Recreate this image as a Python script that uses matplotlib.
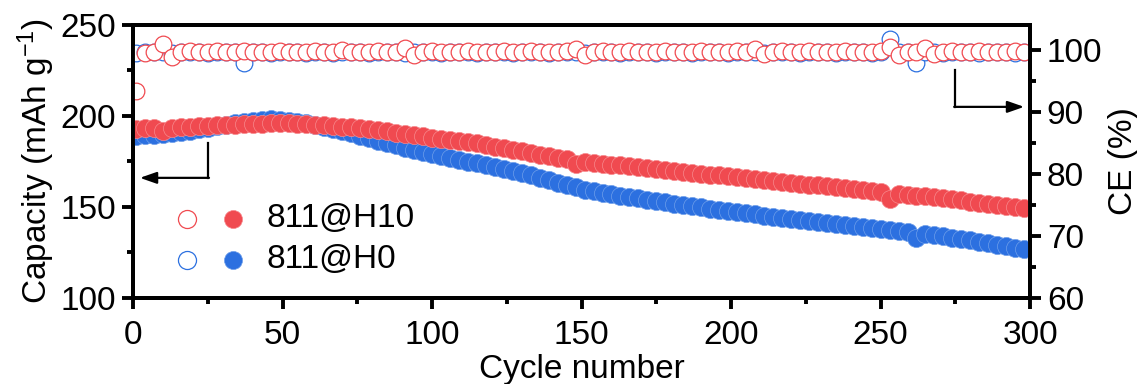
import numpy as np
import matplotlib
matplotlib.use("Agg")
import matplotlib.pyplot as plt

plt.rcParams["font.family"] = "sans-serif"
plt.rcParams["font.sans-serif"] = ["Liberation Sans", "DejaVu Sans"]
plt.rcParams["mathtext.fontset"] = "custom"
plt.rcParams["mathtext.rm"] = "Liberation Sans"
plt.rcParams["mathtext.default"] = "regular"

# Data (every 3rd cycle)
cycles = np.arange(1, 301, 3)

cap_h10 = [193.0, 193.2, 193.4, 191.5, 193.6, 194.0, 194.2, 194.5, 194.7, 194.9,
           195.1, 195.3, 195.4, 195.6, 195.8, 195.9, 196.0, 195.9, 195.8, 195.6,
           195.3, 195.0, 194.6, 194.2, 193.8, 193.2, 192.7, 192.1, 191.5, 190.9,
           190.2, 189.5, 188.8, 188.0, 187.3, 186.7, 186.1, 185.5, 184.9, 184.1,
           183.2, 182.3, 181.4, 180.5, 179.6, 178.7, 177.9, 177.0, 176.2, 173.8,
           174.8, 174.3, 173.8, 173.3, 172.8, 172.3, 171.8, 171.3, 170.8, 170.3,
           169.8, 169.3, 168.8, 168.3, 167.8, 167.3, 166.8, 166.3, 165.8, 165.3,
           164.8, 164.3, 163.8, 163.3, 162.8, 162.3, 161.8, 161.3, 160.8, 160.3,
           159.8, 159.3, 158.8, 158.3, 154.5, 157.3, 156.8, 156.3, 155.8, 155.3,
           154.8, 154.2, 153.6, 153.0, 152.4, 151.8, 151.2, 150.6, 150.0, 149.4]

cap_h0 = [189.0, 189.3, 189.6, 190.0, 190.6, 191.3, 192.0, 192.8, 193.6, 194.4,
          195.2, 196.0, 196.7, 197.3, 197.8, 198.2, 198.0, 197.4, 196.7, 196.0,
          195.0, 193.9, 192.8, 191.6, 190.4, 189.1, 187.8, 186.5, 185.2, 183.9,
          182.6, 181.4, 180.2, 179.0, 177.8, 176.7, 175.7, 174.8, 173.9, 173.0,
          172.1, 171.1, 170.0, 168.8, 167.5, 166.1, 164.7, 163.3, 162.0, 160.8,
          159.6, 158.6, 157.7, 156.9, 156.1, 155.4, 154.7, 154.0, 153.3, 152.6,
          151.9, 151.2, 150.5, 149.8, 149.1, 148.4, 147.7, 147.1, 146.5, 145.9,
          145.3, 144.7, 144.1, 143.5, 142.9, 142.3, 141.7, 141.2, 140.7, 140.2,
          139.6, 139.0, 138.4, 137.8, 137.6, 137.0, 136.3, 133.2, 135.0, 134.4,
          133.8, 133.1, 132.4, 131.6, 130.8, 130.0, 129.2, 128.4, 127.6, 126.8]

ce_h10 = [93.4, 99.5, 99.7, 100.9, 98.9, 99.7, 99.8, 99.6, 99.7, 99.8,
          99.6, 99.7, 99.8, 99.7, 99.6, 99.7, 99.8, 99.7, 99.6, 99.7,
          99.8, 99.7, 99.6, 99.9, 99.7, 99.6, 99.7, 99.8, 99.7, 99.6,
          100.3, 99.2, 99.7, 99.8, 99.7, 99.6, 99.7, 99.8, 99.7, 99.6,
          99.7, 99.8, 99.6, 99.7, 99.8, 99.7, 99.6, 99.7, 99.8, 100.2,
          99.1, 99.7, 99.8, 99.6, 99.7, 99.8, 99.7, 99.6, 99.7, 99.8,
          99.7, 99.6, 99.7, 99.8, 99.7, 99.6, 99.7, 99.8, 99.7, 100.1,
          99.3, 99.7, 99.8, 99.6, 99.7, 99.8, 99.7, 99.6, 99.7, 99.8,
          99.7, 99.6, 99.7, 99.8, 100.4, 99.2, 99.7, 99.6, 100.3, 99.3,
          99.7, 99.8, 99.6, 99.7, 99.8, 99.7, 99.6, 99.7, 99.8, 99.7]

ce_h0 = [99.5, 99.6, 99.7, 99.6, 99.5, 99.7, 99.6, 99.7, 99.5, 99.6,
         99.7, 99.6, 97.9, 99.7, 99.6, 99.5, 99.7, 99.6, 99.7, 99.5,
         99.6, 99.7, 99.5, 99.6, 99.7, 99.6, 99.5, 99.7, 99.6, 99.7,
         99.5, 99.6, 99.7, 99.6, 99.5, 99.7, 99.6, 99.7, 99.5, 99.6,
         99.7, 99.6, 99.5, 99.7, 99.6, 99.7, 99.5, 99.6, 99.7, 99.6,
         99.5, 99.7, 99.6, 99.7, 99.5, 99.6, 99.7, 99.6, 99.5, 99.7,
         99.6, 99.7, 99.5, 99.6, 99.7, 99.6, 99.5, 99.7, 99.6, 99.7,
         99.5, 99.6, 99.7, 99.6, 99.5, 99.7, 99.6, 99.7, 99.5, 99.6,
         99.7, 99.6, 99.5, 99.7, 101.8, 99.6, 99.7, 97.9, 99.6, 99.7,
         99.5, 99.6, 99.7, 99.6, 99.5, 99.7, 99.6, 99.7, 99.5, 99.6]

labels = ["811@H10", "811@H0"]
red = "#F04A50"
blue = "#2C70E0"
red_edge = "#F7898D"
blue_edge = "#6E9EEA"

fig = plt.figure(figsize=(11.37, 3.84), dpi=100)
ax = fig.add_axes([0.117, 0.224, 0.789, 0.711])
ax2 = ax.twinx()

# capacity (filled)
ax.plot(cycles, cap_h0, "o", ms=13, mfc=blue, mec=blue_edge, mew=0.5, zorder=3)
ax.plot(cycles, cap_h10, "o", ms=13, mfc=red, mec=red_edge, mew=0.5, zorder=4)

# CE (hollow)
ax2.plot(cycles, ce_h0, "o", ms=12, mfc="white", mec=blue, mew=0.9)
ax2.plot(cycles, ce_h10, "o", ms=12, mfc="white", mec=red, mew=0.9)

ax.set_xlim(0, 300)
ax.set_ylim(100, 250)
ax2.set_ylim(60, 104)
ax.set_xticks([0, 50, 100, 150, 200, 250, 300])
ax.set_xticks(np.arange(25, 300, 50), minor=True)
ax.set_yticks([100, 150, 200, 250])
ax.set_yticks([125, 175, 225], minor=True)
ax2.set_yticks([60, 70, 80, 90, 100])
ax2.set_yticks([65, 75, 85, 95], minor=True)

for a in (ax, ax2):
    for sp in a.spines.values():
        sp.set_linewidth(2.8)
    a.tick_params(which="major", length=8, width=2.8, labelsize=24, direction="out")
    a.tick_params(which="minor", length=4.5, width=2.8, direction="out")
ax.tick_params(axis="x", pad=8)
ax.tick_params(axis="y", pad=4)
ax2.tick_params(axis="y", pad=4)

ax.set_xlabel("Cycle number", fontsize=24, labelpad=2)
ax.set_ylabel("Capacity (mAh g$^{-1}$)", fontsize=24, labelpad=3)
ax2.set_ylabel("CE (%)", fontsize=24, labelpad=4)

# arrows pointing to the axes
ax.plot([25, 25], [185, 166], color="black", lw=1.6, zorder=5)
ax.annotate("", xy=(2.3, 166), xytext=(25.4, 166),
            arrowprops=dict(arrowstyle="-|>,head_length=1.0,head_width=0.35",
                            color="black", lw=1.6, shrinkA=0, shrinkB=0))
ax.plot([275, 275], [225, 205], color="black", lw=1.6, zorder=5)
ax.annotate("", xy=(298, 205), xytext=(274.6, 205),
            arrowprops=dict(arrowstyle="-|>,head_length=1.0,head_width=0.35",
                            color="black", lw=1.6, shrinkA=0, shrinkB=0))

# legend drawn by hand
rows = [(0.290, red, red_edge), (0.140, blue, blue_edge)]
for (yy, c, ec), lab in zip(rows, labels):
    ax.plot([0.060], [yy], "o", ms=13, mfc="white", mec=c, mew=0.9,
            transform=ax.transAxes, clip_on=False)
    ax.plot([0.111], [yy], "o", ms=13, mfc=c, mec=ec, mew=0.5,
            transform=ax.transAxes, clip_on=False)
    ax.text(0.149, yy, lab, fontsize=24, va="center", ha="left",
            transform=ax.transAxes)

fig.savefig("out.png", dpi=100)
